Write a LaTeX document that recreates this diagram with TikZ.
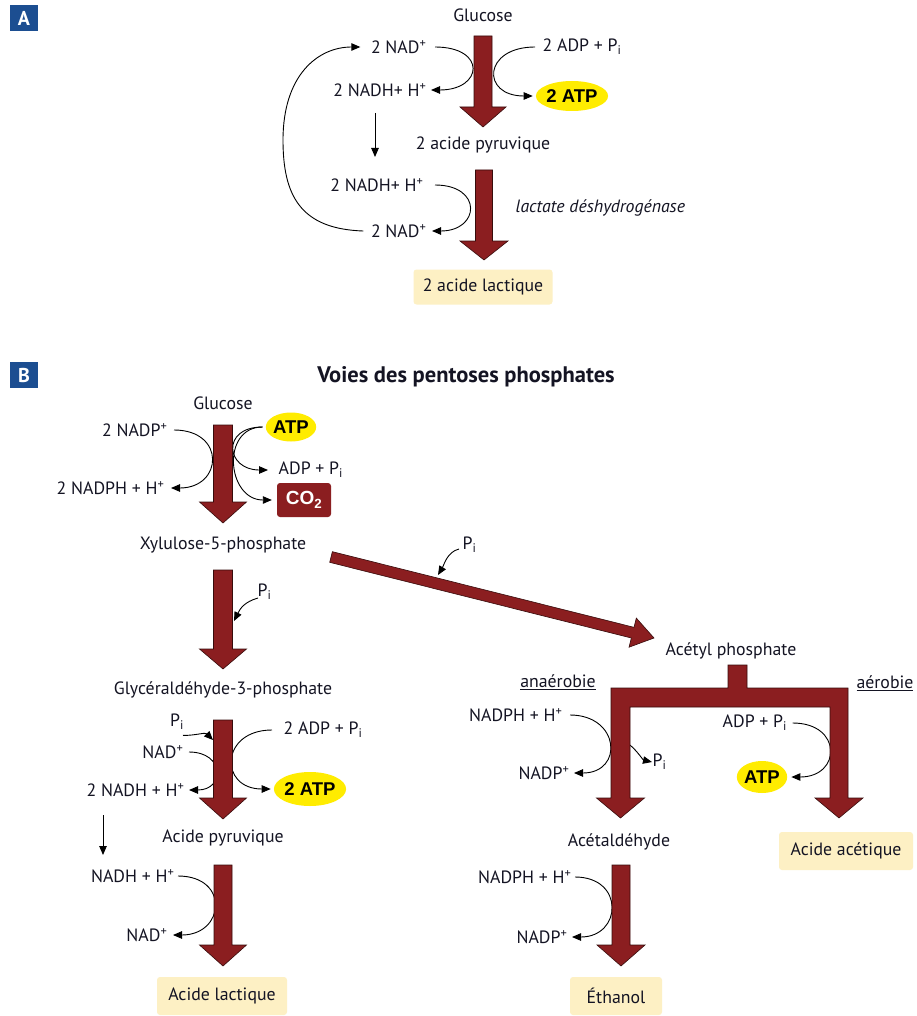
\documentclass[tikz,border=0pt]{standalone}
\usepackage{fontspec}
\setmainfont{PT Sans}
\newfontfamily\atpfont{Liberation Sans}
\usetikzlibrary{arrows.meta,calc,shapes.geometric}
\definecolor{arrred}{RGB}{139,30,32}
\definecolor{arredge}{RGB}{55,12,12}
\definecolor{atpyel}{RGB}{255,236,0}
\definecolor{beige}{RGB}{253,240,196}
\definecolor{labblue}{RGB}{28,78,145}
\definecolor{txt}{RGB}{20,20,35}
\newcommand\bigarrowdraw[5]{%
 \coordinate (bah) at ($(#2)!#5pt!(#1)$);
 \draw[bigarrow] ($(#1)!#3pt!90:(#2)$) -- ($(bah)!#3pt!-90:(#1)$) -- ($(bah)!#4pt!-90:(#1)$) -- (#2) -- ($(bah)!#4pt!90:(#1)$) -- ($(bah)!#3pt!90:(#1)$) -- ($(#1)!#3pt!-90:(#2)$) -- cycle;}
\begin{document}
\begin{tikzpicture}[x=1pt,y=-1pt,
 lbl/.style={font=\fontsize{17.8}{20}\selectfont, text=txt, inner sep=1.5pt},
 lbli/.style={font=\itshape\fontsize{17.8}{20}\selectfont, text=txt, inner sep=1.5pt},
 atp/.style={ellipse, fill=atpyel, text=black, font=\atpfont\bfseries\fontsize{18.5}{20}\selectfont, inner sep=0pt},
 prod/.style={lbl, fill=beige, rounded corners=3pt, inner sep=0pt},
 pane/.style={fill=labblue, text=white, font=\bfseries\fontsize{20}{22}\selectfont, minimum width=28pt, minimum height=26pt, inner sep=0pt},
 conn/.style={draw=black, line width=0.9pt, -{Triangle[length=9pt,width=7.5pt]}},
 bigarrow/.style={fill=arrred, draw=arredge, line width=0.6pt, line join=miter}]
\useasboundingbox[fill=white] (0,0) rectangle (916,1016);

% ---------------- Part A ----------------
\node[pane] (pA) at (24,18) {A};
\node[lbl] (glcA) at (483,15) {Glucose};
\node[lbl,anchor=east] (nadA) at (428,47) {2 NAD\textsuperscript{+}};
\node[lbl,anchor=west] (adpA) at (541,47) {2 ADP + P\textsubscript{i}};
\node[lbl,anchor=east] (nadhA) at (428,90) {2 NADH+ H\textsuperscript{+}};
\node[atp, minimum width=64pt, minimum height=30pt] (atpA) at (572,96) {2 ATP};
\node[lbl] (pyrA) at (483,145) {2 acide pyruvique};
\node[lbl,anchor=east] (nadhA2) at (425,185) {2 NADH+ H\textsuperscript{+}};
\node[lbl,anchor=east] (nadA2) at (428,231) {2 NAD\textsuperscript{+}};
\node[lbli,anchor=west] (ldh) at (514,208) {lactate déshydrogénase};
\node[prod, minimum width=139pt, minimum height=35pt] (lacA) at (483,287) {2 acide lactique};

\draw[conn] ([xshift=7pt]nadA.east) .. controls +(52,0) and +(52,0) .. ([xshift=3pt]nadhA.east);
\draw[conn] ([xshift=-6pt]adpA.west) .. controls +(-52,0) and +(-52,0) .. ([xshift=-3pt]atpA.west);
\coordinate (dA1) at (375,113); \coordinate (dA2) at (375,157);
\draw[conn] (dA1) -- (dA2);
\draw[conn] ([xshift=-6pt]nadA2.west) .. controls (300,229) and (283,195) .. (283,140) .. controls (283,75) and (318,47) .. ([xshift=-9pt]nadA.west);
\draw[conn] ([xshift=10pt]nadhA2.east) .. controls +(48,0) and +(48,0) .. ([xshift=4pt]nadA2.east);

\coordinate (a1s) at (483,36); \coordinate (a1e) at (483,127);
\bigarrowdraw{a1s}{a1e}{9}{23}{20}
\coordinate (a2s) at (484,170); \coordinate (a2e) at (484,260);
\bigarrowdraw{a2s}{a2e}{8.5}{24}{19}

% ---------------- Part B ----------------
\node[pane] (pB) at (24,375) {B};
\node[font=\bfseries\fontsize{22.5}{25}\selectfont, text=txt] (title) at (466,377) {Voies des pentoses phosphates};
\node[lbl] (glcB) at (223,403) {Glucose};
\node[lbl,anchor=east] (nadpB) at (169,430) {2 NADP\textsuperscript{+}};
\node[atp, minimum width=47pt, minimum height=29pt] (atpB) at (291,427) {ATP};
\node[lbl,anchor=west] (adpB) at (277,470) {ADP + P\textsubscript{i}};
\node[fill=arrred, rounded corners=3pt, text=white, font=\atpfont\bfseries\fontsize{19}{21}\selectfont, minimum width=54pt, minimum height=34pt, inner sep=0pt] (co2) at (304,500) {CO\textsubscript{2}};
\node[lbl,anchor=east] (nadphB) at (166,488) {2 NADPH + H\textsuperscript{+}};
\node[lbl] (xyl) at (223,545) {Xylulose-5-phosphate};
\node[lbl,anchor=west] (piB1) at (256,592) {P\textsubscript{i}};
\node[lbl] (gly) at (223,690) {Glycéraldéhyde-3-phosphate};
\node[lbl] (piB2) at (177,722) {P\textsubscript{i}};
\node[lbl,anchor=east] (nadB) at (185,752) {NAD\textsuperscript{+}};
\node[lbl,anchor=west] (adpB2) at (282,730) {2 ADP + P\textsubscript{i}};
\node[lbl,anchor=east] (nadhB) at (186,790) {2 NADH + H\textsuperscript{+}};
\node[atp, minimum width=66pt, minimum height=34pt] (atpB2) at (310,789) {2 ATP};
\node[lbl] (pyrB) at (223,838) {Acide pyruvique};
\node[lbl,anchor=east] (nadhB2) at (176,876) {NADH + H\textsuperscript{+}};
\node[lbl,anchor=east] (nadB2) at (169,935) {NAD\textsuperscript{+}};
\node[prod, minimum width=130pt, minimum height=38pt] (lacB) at (222,996) {Acide lactique};

\draw[conn] ([xshift=5pt]nadpB.east) .. controls +(52,0) and +(52,0) .. ([xshift=5pt]nadphB.east);
\draw[conn] ([xshift=-3pt]atpB.west) .. controls +(-42,0) and +(-42,0) .. ([xshift=-9pt]adpB.west);
\draw[conn] ([xshift=-3pt]atpB.west) .. controls +(-42,0) and +(-45,0) .. ([xshift=-5pt]co2.west);
\draw[conn] ([shift={(2pt,-6pt)}]piB1.west) .. controls +(-14,4) and +(6,-12) .. (234,621);
\draw[conn] ([shift={(6pt,-4pt)}]piB2.south) .. controls +(14,0) and +(-8,-8) .. (213,740);
\draw[conn] ([xshift=4pt]nadB.east) .. controls +(36,0) and +(36,0) .. ([xshift=3pt]nadhB.east);
\draw[conn] ([xshift=-10pt]adpB2.west) .. controls +(-52,0) and +(-52,0) .. ([xshift=-3pt]atpB2.west);
\coordinate (dB1) at (103,815); \coordinate (dB2) at (103,855);
\draw[conn] (dB1) -- (dB2);
\draw[conn] ([xshift=2pt]nadhB2.east) .. controls +(52,0) and +(52,0) .. ([xshift=4pt]nadB2.east);

% right branch
\node[lbl,anchor=west] (piR) at (461,545) {P\textsubscript{i}};
\node[lbl] (acp) at (731,651) {Acétyl phosphate};
\node[lbl] (anae) at (558,682) {\underline{anaérobie}};
\node[lbl] (aero) at (885,683) {\underline{aérobie}};
\node[lbl,anchor=east] (nadphR) at (564,715) {NADPH + H\textsuperscript{+}};
\node[lbl,anchor=east] (nadpR) at (571,773) {NADP\textsuperscript{+}};
\node[lbl,anchor=west] (piR2) at (651,762) {P\textsubscript{i}};
\node[lbl,anchor=west] (adpR) at (721,723) {ADP + P\textsubscript{i}};
\node[atp, minimum width=46pt, minimum height=32pt] (atpR) at (762,777) {ATP};
\node[lbl] (acet) at (619,842) {Acétaldéhyde};
\node[prod, minimum width=134pt, minimum height=38pt] (acac) at (846,851) {Acide acétique};
\node[lbl,anchor=east] (nadphR2) at (573,877) {NADPH + H\textsuperscript{+}};
\node[lbl,anchor=east] (nadpR2) at (569,937) {NADP\textsuperscript{+}};
\node[prod, minimum width=92pt, minimum height=38pt] (eth) at (616,996) {Éthanol};

\draw[conn] ([xshift=6pt]nadphR.east) .. controls +(50,0) and +(50,0) .. ([xshift=3pt]nadpR.east);
\coordinate (tarm) at (630,745);
\draw[conn] (tarm) .. controls (638,752) and (643,760) .. ([xshift=1pt]piR2.west);
\draw[conn] ([xshift=4pt]adpR.east) .. controls +(50,0) and +(50,0) .. ([xshift=4pt]atpR.east);
\draw[conn] ([xshift=2pt]nadphR2.east) .. controls +(50,0) and +(50,0) .. ([xshift=3pt]nadpR2.east);
\draw[conn] ([shift={(-2pt,-4pt)}]piR.west) .. controls +(-12,3) and +(6,-10) .. (438,575);

\coordinate (b1s) at (223,425); \coordinate (b1e) at (223,523);
\bigarrowdraw{b1s}{b1e}{9.5}{23.5}{21}
\coordinate (b2s) at (223,570); \coordinate (b2e) at (223,669);
\bigarrowdraw{b2s}{b2e}{9.5}{23.5}{20}
\coordinate (b3s) at (223,720); \coordinate (b3e) at (223,819);
\bigarrowdraw{b3s}{b3e}{9.5}{23.5}{21}
\coordinate (b4s) at (223,865); \coordinate (b4e) at (223,966);
\bigarrowdraw{b4s}{b4e}{9}{23.5}{21}
\coordinate (b5s) at (621,865); \coordinate (b5e) at (621,966);
\bigarrowdraw{b5s}{b5e}{9}{24}{21}
\coordinate (dgs) at (331,557); \coordinate (dge) at (654,638);
\bigarrowdraw{dgs}{dge}{5.5}{15}{22}
% T branch
\draw[bigarrow] (728,665) -- (747,665) -- (747,688) -- (848,688) -- (848,798) -- (863,798) -- (839,818) -- (815,798) -- (830,798) -- (830,707) -- (630,707) -- (630,798) -- (644.5,798) -- (620.5,818) -- (596.5,798) -- (611,798) -- (611,688) -- (728,688) -- cycle;
\end{tikzpicture}
\end{document}
